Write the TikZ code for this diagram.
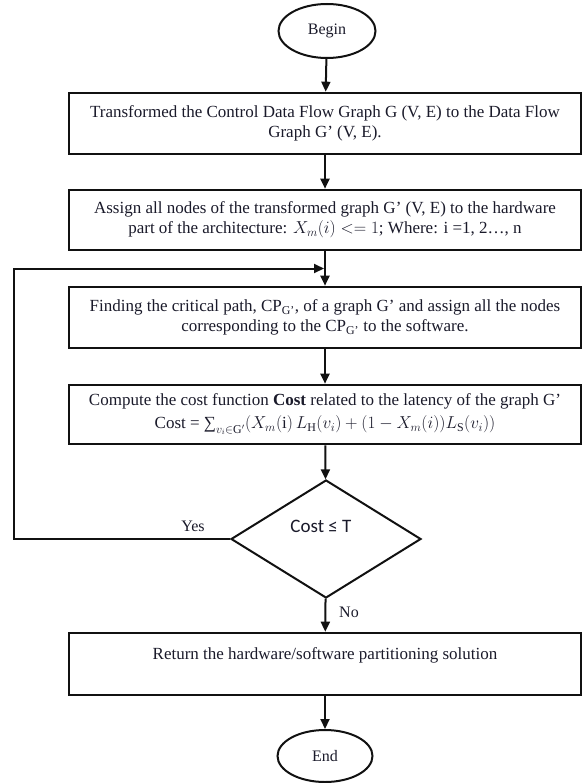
\documentclass[tikz,border=0pt]{standalone}
\usepackage{amsmath,amssymb}
\usepackage{fontspec}
\setmainfont{Liberation Serif}
\newfontfamily\decfont{Carlito}
\usepackage{tikz}
\usetikzlibrary{arrows.meta,positioning,shapes.geometric,calc}
\usepackage{xcolor}
\definecolor{fcLine}{HTML}{111111}
\definecolor{fcText}{HTML}{1A1A2A}
\tikzset{
    every picture/.style={
        x=1pt,
        y=-1pt,
        >=stealth
    },
    % Node styles for the flow chart
    procbox/.style={rectangle,draw=fcLine,line width=2.6pt,minimum width=512pt,minimum height=60pt,align=center,inner sep=0pt,text=fcText,font=\fontsize{17}{20}\selectfont},
    termnode/.style={ellipse,draw=fcLine,line width=2pt,minimum width=97pt,minimum height=54pt,inner sep=0pt,text=fcText,font=\fontsize{16}{19}\selectfont},
    decision/.style={diamond,draw=fcLine,line width=2pt,minimum width=190pt,minimum height=118pt,inner sep=0pt},
    lbl/.style={inner sep=0pt,text=fcText,font=\fontsize{16}{19}\selectfont},
    % Flow styles
    flowarrow/.style={-{Triangle[width=9pt,length=10pt]},line width=2pt,fcLine},
    flowline/.style={line width=2pt,fcLine}
}

\begin{document}
\begin{tikzpicture}
    \useasboundingbox (0,0) rectangle (585,783);

    % Start and end
    \node[termnode] (begin) at (327,31) {Begin};
    \node[termnode,minimum width=95pt,minimum height=52pt] (end) at (325,756) {End};

    % Processing steps
    \node[procbox,minimum height=61pt] (box1) at (325,123.5) {Transformed the Control Data Flow Graph G (V, E) to the Data Flow\\Graph G’ (V, E).};
    \node[procbox] (box2) at (325,220) {Assign all nodes of the transformed graph G’ (V, E) to the hardware\\part of the architecture: $X_m(i) <= 1$; Where: i =1, 2…, n};
    \node[procbox,minimum height=61pt] (box3) at (325,317.5) {Finding the critical path, CP\textsubscript{G’}, of a graph G’ and assign all the nodes\\corresponding to the CP\textsubscript{G’} to the software.};
    \node[procbox,minimum height=59pt] (box4) at (325,414.5) {Compute the cost function \textbf{Cost} related to the latency of the graph G’\\[3pt]Cost = $\mbox{∑}_{v_i\in \mathrm{G'}} (X_m(\mathrm{i})\, L_{\mathrm{H}}(v_i) + (1 - X_m(i)) L_{\mathrm{S}}(v_i))$};
    \node[procbox,minimum height=62pt] (box5) at (325,664) {Return the hardware/software partitioning solution\\\mbox{}};

    % Decision
    \node[decision] (dec) at (326,539) {};
    \node[lbl,font=\decfont\fontsize{19}{22}\selectfont] (dectext) at (321,526) {Cost ≤ T};

    % Loop back point
    \coordinate (join) at ($(box2.south)!0.5!(box3.north)$);
    \coordinate (loopx) at (14,539);

    % Connectors
    \draw[flowarrow] (begin) -- (box1);
    \draw[flowarrow] (box1) -- (box2);
    \draw[flowarrow] (box2) -- (box3);
    \draw[flowarrow] (box3) -- (box4);
    \draw[flowarrow] (box4) -- (dec);
    \draw[flowarrow] (dec) -- (box5);
    \draw[flowarrow] (box5) -- (end);
    \draw[flowarrow,shorten >=1pt] (dec.west) -- (dec.west -| loopx) |- (join);

    % Branch labels
    \node[lbl] (yes) at (193,526) {Yes};
    \node[lbl] (no) at (349,612) {No};
\end{tikzpicture}
\end{document}
